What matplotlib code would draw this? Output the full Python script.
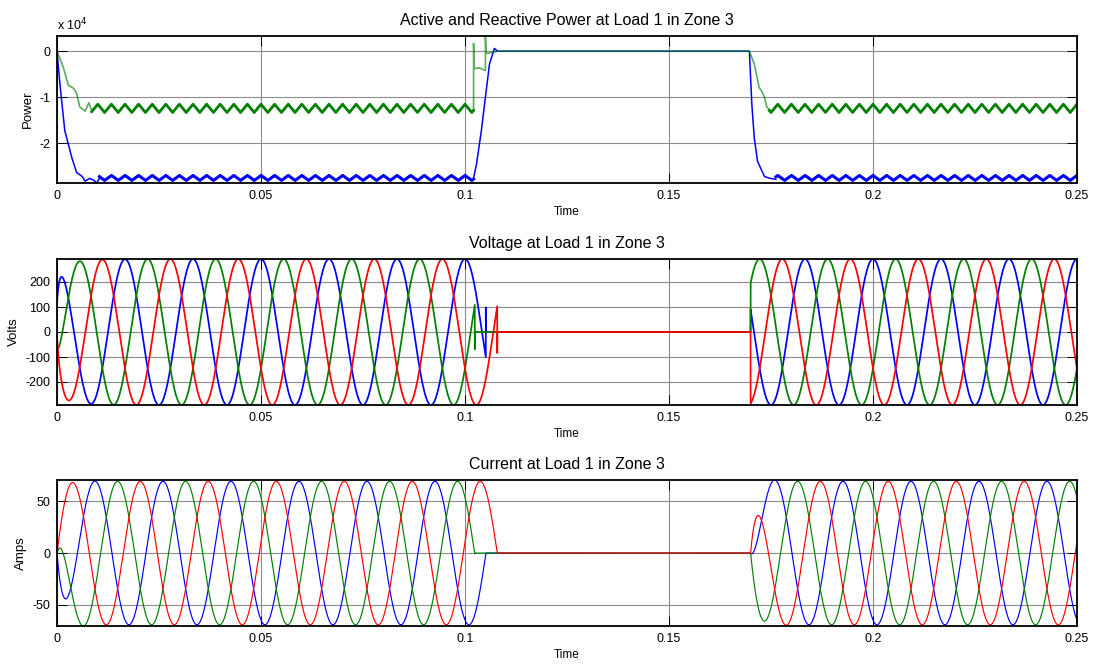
import numpy as np
import matplotlib
matplotlib.use("Agg")
import matplotlib.pyplot as plt

plt.rcParams["font.family"] = ["Liberation Sans", "DejaVu Sans"]
plt.rcParams["axes.unicode_minus"] = False

# ---------------- load / network parameters ----------------
FREQ_HZ = 60.0
T_END = 0.25
DT = 1e-5
PHASE_COLORS = ["#0000ff", "#008000", "#ff0000"]   # phases A, B, C
PHASE_SHIFT_DEG = [0.0, 120.0, 240.0]

V_PEAK = 292.0            # volts
I_PEAK = 69.5             # amps
I_ANGLE_DEG = 201.0       # current angle behind phase voltage (measured into the source)

# breaker events (s): each pole clears at its own current zero
T_OPEN = [0.1051, 0.1024, 0.1079]
T_CLOSE = 0.1700
V_OPEN_SPIKE = [98.0, -69.0, -84.0]

# energisation transient
V_START = [118.0, -66.0, -20.0]
V_SAG = 0.12
V_SAG_TAU = 0.004
V_START_TAU = 0.0006
I_DC_TAU = 0.0017

# ---------------- power (units of 1e4) ----------------
POWER_SCALE = 1e4
RIPPLE_HZ = 300.0
P_LEVEL = -2.75
P_RIPPLE = 0.055
Q_LEVEL = -1.24
Q_RIPPLE = 0.09

P_RISE_T = [0.0, 0.0007, 0.0019, 0.0036, 0.0048, 0.0062, 0.0069, 0.0080, 0.0090, 0.0097, 0.0104]
P_RISE_V = [0.0, -0.70, -1.72, -2.30, -2.63, -2.72, -2.82, -2.76, -2.80, -2.86, -2.76]
P_TRIP_T = [0.1021, 0.1028, 0.1040, 0.1050, 0.1060, 0.1072, 0.1080, 0.1697]
P_TRIP_V = [-2.75, -2.46, -1.73, -1.00, -0.28, 0.06, 0.0, 0.0]
P_RECL_T = [0.1697, 0.1703, 0.1709, 0.1717, 0.1734, 0.1748, 0.1762]
P_RECL_V = [0.0, -1.15, -1.88, -2.39, -2.72, -2.76, -2.78]

Q_RISE_T = [0.0, 0.0015, 0.0028, 0.0040, 0.0044, 0.0048, 0.0056, 0.0069, 0.0078, 0.0085]
Q_RISE_V = [0.0, -0.34, -0.74, -0.80, -0.85, -0.92, -1.21, -1.30, -1.12, -1.28]
Q_TRIP_T = [0.1021, 0.1021, 0.1023, 0.1035, 0.1050, 0.1050, 0.1052, 0.1065, 0.1080, 0.1697]
Q_TRIP_V = [-1.25, 0.17, -0.38, -0.36, -0.42, 0.33, -0.05, -0.03, 0.0, 0.0]
Q_RECL_T = [0.1697, 0.1709, 0.1721, 0.1728, 0.1734, 0.1740, 0.1746]
Q_RECL_V = [0.0, -0.28, -0.79, -0.88, -1.00, -1.22, -1.26]

X_TICKS = [0, 0.05, 0.1, 0.15, 0.2, 0.25]
X_TICK_LABELS = ["0", "0.05", "0.1", "0.15", "0.2", "0.25"]
P_TICKS = [-2, -1, 0]
V_TICKS = [-200, -100, 0, 100, 200]
I_TICKS = [-50, 0, 50]

TITLES = ["Active and Reactive Power at Load 1 in Zone 3",
          "Voltage at Load 1 in Zone 3",
          "Current at Load 1 in Zone 3"]
Y_LABELS = ["Power", "Volts", "Amps"]

t = np.arange(0.0, T_END + DT / 2, DT)
w = 2 * np.pi * FREQ_HZ


def phase_voltage(k):
    ang = np.deg2rad(PHASE_SHIFT_DEG[k])
    vss = V_PEAK * np.cos(w * t - ang)
    sag = 1 - V_SAG * np.exp(-t / V_SAG_TAU)
    v = vss * sag + (V_START[k] - V_PEAK * np.cos(-ang) * (1 - V_SAG)) * np.exp(-t / V_START_TAU)
    off = (t >= T_OPEN[k]) & (t < T_CLOSE)
    v[off] = 0.0
    i0 = np.searchsorted(t, T_OPEN[k])
    v_before = V_PEAK * np.cos(w * T_OPEN[k] - ang)
    tt = np.insert(t, i0, [T_OPEN[k], T_OPEN[k], T_OPEN[k]])
    vv = np.insert(v, i0, [v_before, V_OPEN_SPIKE[k], 0.0])
    return tt, vv


def phase_current(k):
    psi = np.deg2rad(PHASE_SHIFT_DEG[k] + I_ANGLE_DEG)
    iss = I_PEAK * np.cos(w * t - psi)
    i = iss - I_PEAK * np.cos(-psi) * np.exp(-t / I_DC_TAU)
    off = (t >= T_OPEN[k]) & (t < T_CLOSE)
    i[off] = 0.0
    on = t >= T_CLOSE
    i[on] = iss[on] - I_PEAK * np.cos(w * T_CLOSE - psi) * np.exp(-(t[on] - T_CLOSE) / I_DC_TAU)
    return i


def steady(t0, t1, level, amp):
    ts = np.arange(t0, t1 + DT / 2, DT)
    tri = (2 / np.pi) * np.arcsin(np.cos(2 * np.pi * RIPPLE_HZ * ts))
    return ts, level + amp * tri


def power_segments(rise_t, rise_v, trip_t, trip_v, recl_t, recl_v, level, amp):
    s1 = steady(rise_t[-1], trip_t[0], level, amp)
    s2 = steady(recl_t[-1], T_END, level, amp)
    trans = [(np.asarray(rise_t), np.asarray(rise_v)),
             (np.concatenate([[s1[0][-1]], trip_t, recl_t]),
              np.concatenate([[s1[1][-1]], trip_v, recl_v]))]
    trans = [(a, b * POWER_SCALE) for a, b in trans]
    stead = [(a, b * POWER_SCALE) for a, b in (s1, s2)]
    return trans, stead


fig = plt.figure(figsize=(11.0, 6.66), dpi=100)
L, W = 57 / 1100, 1020 / 1100
axes = [fig.add_axes([L, 1 - 183 / 666, W, 147 / 666]),
        fig.add_axes([L, 1 - 405 / 666, W, 146 / 666]),
        fig.add_axes([L, 1 - 626 / 666, W, 146 / 666])]

# power: switching ripple makes the steady parts look heavy
ax = axes[0]
p_trans, p_steady = power_segments(P_RISE_T, P_RISE_V, P_TRIP_T, P_TRIP_V,
                                   P_RECL_T, P_RECL_V, P_LEVEL, P_RIPPLE)
q_trans, q_steady = power_segments(Q_RISE_T, Q_RISE_V, Q_TRIP_T, Q_TRIP_V,
                                   Q_RECL_T, Q_RECL_V, Q_LEVEL, Q_RIPPLE)
for tt, vv in p_trans:
    ax.plot(tt, vv, color=PHASE_COLORS[0], lw=1.1)
for tt, vv in p_steady:
    ax.plot(tt, vv, color=PHASE_COLORS[0], lw=2.2)
for tt, vv in q_trans:
    ax.plot(tt, vv, color=PHASE_COLORS[1], lw=1.2, alpha=0.65)
for tt, vv in q_steady:
    ax.plot(tt, vv, color=PHASE_COLORS[1], lw=2.0)
all_p = np.concatenate([v for _, v in p_trans + p_steady + q_trans + q_steady])
ax.set_ylim(all_p.min(), all_p.max())
ax.set_yticks([v * POWER_SCALE for v in P_TICKS])
ax.set_yticklabels([str(v) for v in P_TICKS])
fig.text(L, 1 - 30 / 666, "x 10$^4$", fontsize=9, ha="left", va="baseline")

# voltage
ax = axes[1]
vmin, vmax = 0.0, 0.0
for k in range(3):
    tt, vv = phase_voltage(k)
    ax.plot(tt, vv, color=PHASE_COLORS[k], lw=1.25)
    vmin, vmax = min(vmin, vv.min()), max(vmax, vv.max())
ax.set_ylim(vmin, vmax)
ax.set_yticks(V_TICKS)

# current
ax = axes[2]
imin, imax = 0.0, 0.0
for k in range(3):
    ii = phase_current(k)
    ax.plot(t, ii, color=PHASE_COLORS[k], lw=0.85)
    imin, imax = min(imin, ii.min()), max(imax, ii.max())
ax.set_ylim(imin, imax)
ax.set_yticks(I_TICKS)

for ax, title, ylab in zip(axes, TITLES, Y_LABELS):
    ax.set_xlim(0, T_END)
    ax.set_xticks(X_TICKS)
    ax.set_xticklabels(X_TICK_LABELS)
    ax.grid(True, color="#8c8c8c", lw=0.8, ls="-")
    ax.set_axisbelow(True)
    ax.tick_params(direction="in", length=7, width=0.7, top=True, right=True,
                   labelsize=9, pad=5)
    for s in ax.spines.values():
        s.set_linewidth(1.3)
    ax.set_title(title, fontsize=11.5, pad=8)
    ax.set_xlabel("Time", fontsize=8.5, labelpad=3)
    ax.set_ylabel(ylab, fontsize=9.5, labelpad=4)

fig.savefig("out.png", dpi=100)
